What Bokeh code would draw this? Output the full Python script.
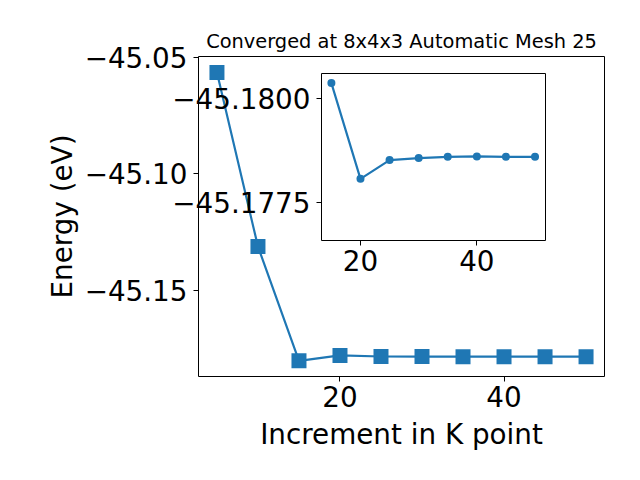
from bokeh.plotting import figure
from bokeh.models import Range1d, FixedTicker
from bokeh.layouts import column
from bokeh.embed import file_html
from bokeh.resources import INLINE

# Data
k_points = [5, 10, 15, 20, 25, 30, 35, 40, 45, 50]
energy = [-45.0566, -45.1313, -45.18036, -45.17806, -45.17851,
          -45.17856, -45.17859, -45.17860, -45.17859, -45.17859]
inset_k = k_points[2:]
inset_energy = energy[2:]

main_x_ticks = [20, 40]
main_y_ticks = [-45.15, -45.10, -45.05]
main_y_labels = {-45.15: "\u221245.15", -45.10: "\u221245.10", -45.05: "\u221245.05"}
inset_x_ticks = [20, 40]
inset_y_ticks = [-45.18, -45.1775]
inset_y_labels = {-45.18: "\u221245.1800", -45.1775: "\u221245.1775"}

title_text = "Converged at 8x4x3 Automatic Mesh 25"
x_label = "Increment in K point"
y_label = "Energy (eV)"

BLUE = "#1f77b4"
FONT = "DejaVu Sans"
TICK_SIZE = "27.8px"


def style_axes(p, xticks, yticks, ylabels):
    p.xgrid.visible = False
    p.ygrid.visible = False
    p.outline_line_color = "black"
    p.outline_line_width = 1
    p.background_fill_color = "white"
    for ax in (p.xaxis[0], p.yaxis[0]):
        ax.axis_line_color = None
        ax.major_tick_line_color = "black"
        ax.major_tick_line_width = 1
        ax.major_tick_out = 5
        ax.major_tick_in = 0
        ax.minor_tick_line_color = None
        ax.major_label_text_font = FONT
        ax.major_label_text_font_size = TICK_SIZE
        ax.major_label_text_color = "black"
        ax.axis_label_text_font = FONT
        ax.axis_label_text_font_size = TICK_SIZE
        ax.axis_label_text_font_style = "normal"
        ax.axis_label_text_color = "black"
    p.xaxis[0].ticker = FixedTicker(ticks=xticks)
    p.yaxis[0].ticker = FixedTicker(ticks=yticks)
    p.yaxis[0].major_label_overrides = ylabels
    p.xaxis[0].major_label_standoff = 4
    p.yaxis[0].major_label_standoff = 6


main = figure(width=624, height=464, output_backend="svg", toolbar_location=None,
              x_range=Range1d(2.75, 52.25), y_range=Range1d(-45.1871, -45.0497),
              min_border_left=198, min_border_right=20, min_border_top=56,
              min_border_bottom=88, title=title_text)
main.border_fill_color = "white"
style_axes(main, main_x_ticks, main_y_ticks, main_y_labels)
main.xaxis.axis_label = x_label
main.yaxis.axis_label = y_label
main.xaxis.axis_label_standoff = 8
main.yaxis.axis_label_standoff = 3
main.title.text_font = FONT
main.title.text_font_size = "19.4px"
main.title.text_font_style = "normal"
main.title.text_color = "black"
main.title.align = "center"
main.title.standoff = 7

main.line(k_points, energy, line_color=BLUE, line_width=2.2)
main.scatter(k_points, energy, marker="square", size=15, fill_color=BLUE,
             line_color=None)

inset = figure(width=442, height=218, output_backend="svg", toolbar_location=None,
               x_range=Range1d(13.3, 51.8), y_range=Range1d(-45.17658, -45.18059),
               min_border_left=198, min_border_right=20, min_border_top=6,
               min_border_bottom=45)
inset.border_fill_alpha = 0
inset.border_fill_color = None
style_axes(inset, inset_x_ticks, inset_y_ticks, inset_y_labels)
inset.line(inset_k, inset_energy, line_color=BLUE, line_width=2.2)
inset.scatter(inset_k, inset_energy, marker="circle", size=8, fill_color=BLUE,
              line_color=None)
inset.styles = {"position": "absolute", "left": "123px", "top": "67px"}

layout = column(main, inset)
open("out.html", "w").write(file_html(layout, INLINE))
